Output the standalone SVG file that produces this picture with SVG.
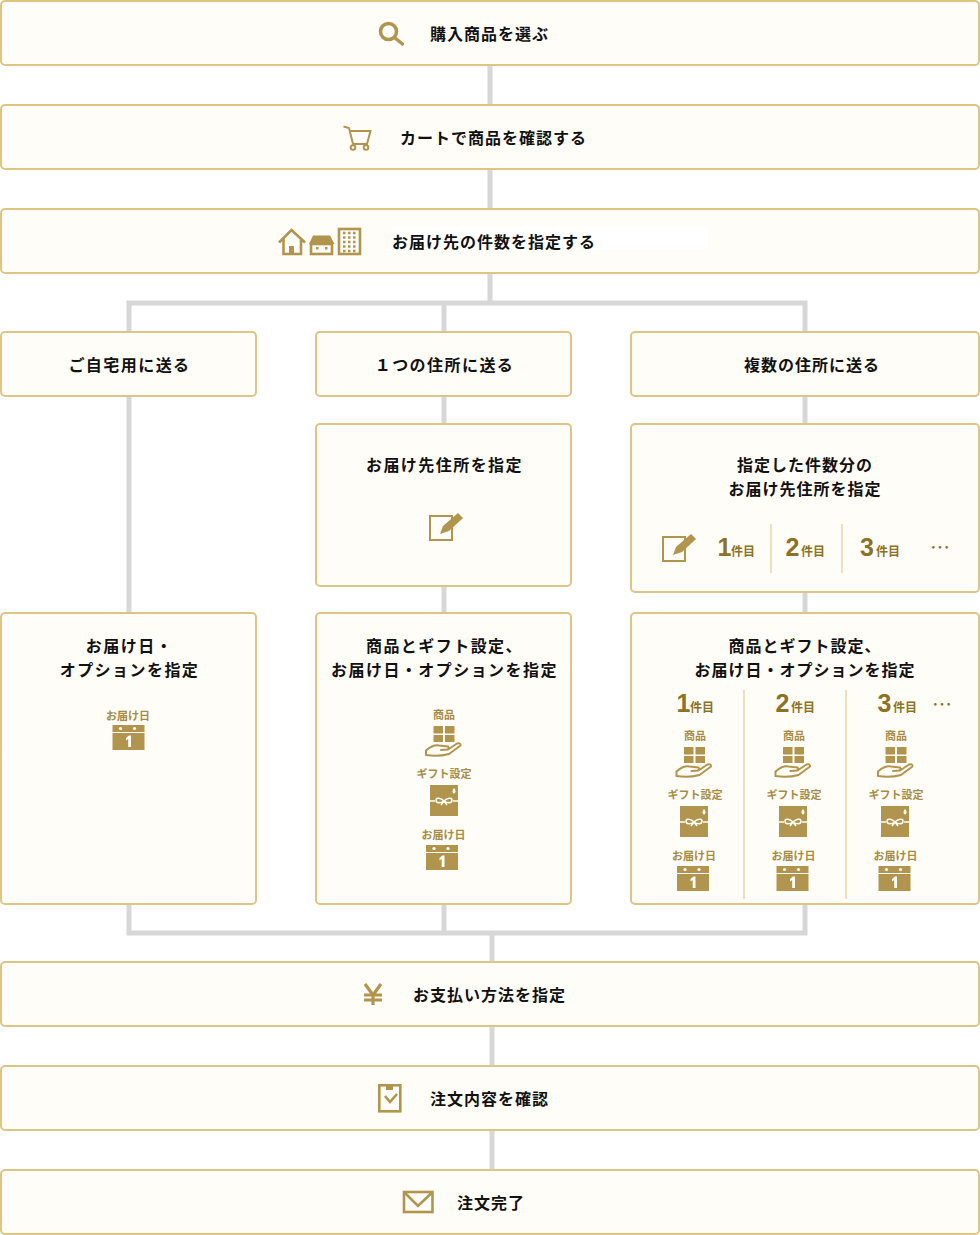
<svg xmlns="http://www.w3.org/2000/svg" xmlns:xlink="http://www.w3.org/1999/xlink" width="980" height="1235" viewBox="0 0 980 1235">
<style>
.box{fill:#fffdf8;stroke:#dfc585;stroke-width:2}
.conn{fill:none;stroke:#d7d7d7;stroke-width:5}
text{font-family:"Noto Sans CJK JP","Noto Sans",sans-serif}
.t{font-size:16px;font-weight:700;letter-spacing:1px;fill:#111}
.w2{letter-spacing:1.45px}
.m{text-anchor:middle}
.s{font-size:11px;font-weight:700;fill:#a68c45;text-anchor:middle}
.n{font-family:"Liberation Sans",sans-serif;font-size:25px;font-weight:700;fill:#8c7226}
.k{font-size:12px;font-weight:700;fill:#8c7226}
.d{font-size:20px;fill:#8c7226}
.div{stroke:#e8d6ab;stroke-width:1.5}
.g{fill:#b1954e}
.o{fill:none;stroke:#b1954e;stroke-width:2}
.o25{fill:none;stroke:#b1954e;stroke-width:2.600}
.o3{fill:none;stroke:#b1954e;stroke-width:3.5;stroke-linecap:round}
.w{fill:#fffdf8}
.wl{fill:none;stroke:#fffdf8;stroke-width:1.5}
</style>
<defs>
<g id="hand">
<rect class="g" x="-10.500" y="0" width="9.500" height="7.500"/><rect class="g" x="1" y="0" width="9.500" height="7.500"/>
<rect class="g" x="-10.500" y="9" width="9.500" height="7"/><rect class="g" x="1" y="9" width="9.500" height="7"/>
<path class="o" stroke-linejoin="round" d="M-18 29 L-18 24.500 Q-11 18.500 -5 19.500 L4 20.500 Q6 22.500 3 23.500 L-3 24 L4 23.500 L13 17.500 Q17 16.500 16.500 19.500 L5 28 Q-6 31 -18 29Z"/>
</g>
<g id="gift">
<rect class="g" x="-14" y="0" width="28" height="31"/>
<path class="wl" d="M-14 16H-9M9 16H14M0 16C-3 13 -8 12 -8 15C-8 19 -3 18 0 16C3 18 8 19 8 15C8 12 3 13 0 16Z M0 16L-3 20M0 16L3 20"/>
<path class="w" d="M10 3C12 5 12 8 10 8.500C8 8 8 5 10 3Z"/>
</g>
<g id="cal">
<rect class="g" x="-16" y="0" width="32" height="7"/>
<rect class="g" x="-16" y="8" width="32" height="17"/>
<circle class="w" cx="-8" cy="3.500" r="1.600"/><circle class="w" cx="6" cy="3.500" r="1.600"/>
<path class="w" d="M-2.500 13L0.500 10.500H2.500V22H-0.300V14L-2.500 15.500Z"/>
</g>
<g id="pen">
<rect class="o" x="1" y="1" width="22" height="24"/>
<path class="g" d="M11 19L14 11L29 -2L34 3L20 16Z"/>
</g>
</defs>

<g id="connectors">
<path class="conn" d="M490 65V105M490 169V209M490 273V303M129 332V303H805V332M444 303V332"/>
<path class="conn" d="M129 396V613M444 396V424M444 586V613M805 396V424M805 592V613"/>
<path class="conn" d="M129 904V933H805V904M444 904V933M492 933V962M492 1026V1066M492 1130V1170"/>
</g>

<g id="node-select">
<rect class="box" x="1" y="1" width="978" height="64" rx="4"/>
<circle cx="388.500" cy="31.500" r="8" fill="none" stroke="#b1954e" stroke-width="3.500"/>
<path class="o3" d="M395 38L402.500 44"/>
<text class="t" x="430" y="39.500">購入商品を選ぶ</text>
</g>
<g id="node-cart">
<rect class="box" x="1" y="105" width="978" height="64" rx="4"/>
<path class="o" d="M343.500 126.500L349 128L353 144H367L370.500 131H350"/>
<circle class="o" cx="353" cy="147.500" r="2.300"/><circle class="o" cx="366" cy="147.500" r="2.300"/>
<text class="t" x="400" y="143.500">カートで商品を確認する</text>
</g>
<g id="node-count">
<rect class="box" x="1" y="209" width="978" height="64" rx="4"/>
<rect x="392" y="227" width="316" height="22" fill="#fff"/>
<path class="o25" d="M279 242.500L291.500 230L305 242.500M283.500 238V254H301V238"/>
<rect class="g" x="289" y="246" width="5" height="8"/>
<path class="g" d="M313 235.500H330L334.500 244H309Z"/>
<rect class="o25" x="311" y="244" width="21" height="10"/>
<rect class="g" x="316" y="247" width="2.500" height="2.500"/><rect class="g" x="325" y="247" width="2.500" height="2.500"/>
<rect class="o25" x="339" y="229" width="21" height="25"/>
<path d="M343 233H357M343 237.500H357M343 242H357M343 246.500H357M343 251H357" fill="none" stroke="#b1954e" stroke-width="2.500" stroke-dasharray="2.500 2.500"/>
<text class="t" x="392" y="247.500">お届け先の件数を指定する</text>
</g>

<g id="node-home">
<rect class="box" x="1" y="332" width="255" height="64" rx="4"/>
<text class="t w2 m" x="129.500" y="370.500">ご自宅用に送る</text>
</g>
<g id="node-single">
<rect class="box" x="316" y="332" width="255" height="64" rx="4"/>
<text class="t w2 m" x="444.500" y="370.500">１つの住所に送る</text>
</g>
<g id="node-multi">
<rect class="box" x="631" y="332" width="348" height="64" rx="4"/>
<text class="t m" x="812" y="370.500">複数の住所に送る</text>
</g>

<g id="node-single-address">
<rect class="box" x="316" y="424" width="255" height="162" rx="4"/>
<text class="t w2 m" x="444.500" y="470.500">お届け先住所を指定</text>
<use xlink:href="#pen" x="429" y="515"/>
</g>
<g id="node-multi-address">
<rect class="box" x="631" y="424" width="348" height="168" rx="4"/>
<text class="t m" x="805" y="470.500">指定した件数分の</text>
<text class="t m" x="805" y="495">お届け先住所を指定</text>
<use xlink:href="#pen" x="662" y="536"/>
<text class="n" x="717.500" y="556">1</text><text class="k" x="731" y="556">件目</text>
<line class="div" x1="771" y1="524" x2="771" y2="573"/>
<text class="n" x="785.500" y="556">2</text><text class="k" x="801" y="556">件目</text>
<line class="div" x1="842" y1="524" x2="842" y2="573"/>
<text class="n" x="860" y="556">3</text><text class="k" x="876" y="556">件目</text>
<text class="d" x="930" y="555">…</text>
</g>

<g id="node-home-options">
<rect class="box" x="1" y="613" width="255" height="291" rx="4"/>
<text class="t w2 m" x="129.500" y="652">お届け日・</text>
<text class="t w2 m" x="129.500" y="675.500">オプションを指定</text>
<text class="s" x="128" y="720">お届け日</text>
<use xlink:href="#cal" x="128.500" y="725"/>
</g>
<g id="node-single-options">
<rect class="box" x="316" y="613" width="255" height="291" rx="4"/>
<text class="t w2 m" x="444.500" y="652">商品とギフト設定、</text>
<text class="t w2 m" x="444.500" y="675.500">お届け日・オプションを指定</text>
<text class="s" x="444" y="719">商品</text>
<use xlink:href="#hand" x="444" y="726"/>
<text class="s" x="444" y="778">ギフト設定</text>
<use xlink:href="#gift" x="444" y="785"/>
<text class="s" x="443.500" y="839">お届け日</text>
<use xlink:href="#cal" x="442" y="845"/>
</g>
<g id="node-multi-options">
<rect class="box" x="631" y="613" width="348" height="291" rx="4"/>
<text class="t m" x="805" y="652">商品とギフト設定、</text>
<text class="t m" x="805" y="675.500">お届け日・オプションを指定</text>
<text class="n" x="676.500" y="712">1</text><text class="k" x="690" y="712">件目</text>
<text class="n" x="775.500" y="712">2</text><text class="k" x="791" y="712">件目</text>
<text class="n" x="877.500" y="712">3</text><text class="k" x="893" y="712">件目</text>
<text class="d" x="932" y="712">…</text>
<line class="div" x1="744" y1="690" x2="744" y2="899"/>
<line class="div" x1="846" y1="690" x2="846" y2="899"/>
<text class="s" x="695" y="740">商品</text>
<use xlink:href="#hand" x="694.500" y="747"/>
<text class="s" x="695" y="799">ギフト設定</text>
<use xlink:href="#gift" x="694" y="806"/>
<text class="s" x="694" y="860">お届け日</text>
<use xlink:href="#cal" x="693" y="866"/>
<text class="s" x="794" y="740">商品</text>
<use xlink:href="#hand" x="793.500" y="747"/>
<text class="s" x="794" y="799">ギフト設定</text>
<use xlink:href="#gift" x="793" y="806"/>
<text class="s" x="793.500" y="860">お届け日</text>
<use xlink:href="#cal" x="792.500" y="866"/>
<text class="s" x="896" y="740">商品</text>
<use xlink:href="#hand" x="896" y="747"/>
<text class="s" x="896" y="799">ギフト設定</text>
<use xlink:href="#gift" x="895" y="806"/>
<text class="s" x="895.500" y="860">お届け日</text>
<use xlink:href="#cal" x="894.500" y="866"/>
</g>

<g id="node-payment">
<rect class="box" x="1" y="962" width="978" height="64" rx="4"/>
<path d="M365 984L373 995L381 984M373 995V1005M364 995H382M364 1000H382" fill="none" stroke="#b1954e" stroke-width="3.200"/>
<text class="t" x="413" y="1000.500">お支払い方法を指定</text>
</g>
<g id="node-confirm">
<rect class="box" x="1" y="1066" width="978" height="64" rx="4"/>
<rect class="o25" x="379.300" y="1085.300" width="21" height="26"/>
<rect class="g" x="386" y="1085" width="7" height="5"/>
<path class="o25" d="M385 1096L390 1102L397 1094"/>
<text class="t" x="430" y="1104.500">注文内容を確認</text>
</g>
<g id="node-done">
<rect class="box" x="1" y="1170" width="978" height="64" rx="4"/>
<rect class="o25" x="404" y="1192" width="28.500" height="20" stroke-width="2.800"/>
<path class="o25" d="M404 1192L418 1206L432.500 1192"/>
<text class="t" x="457" y="1208.500">注文完了</text>
</g>
</svg>
